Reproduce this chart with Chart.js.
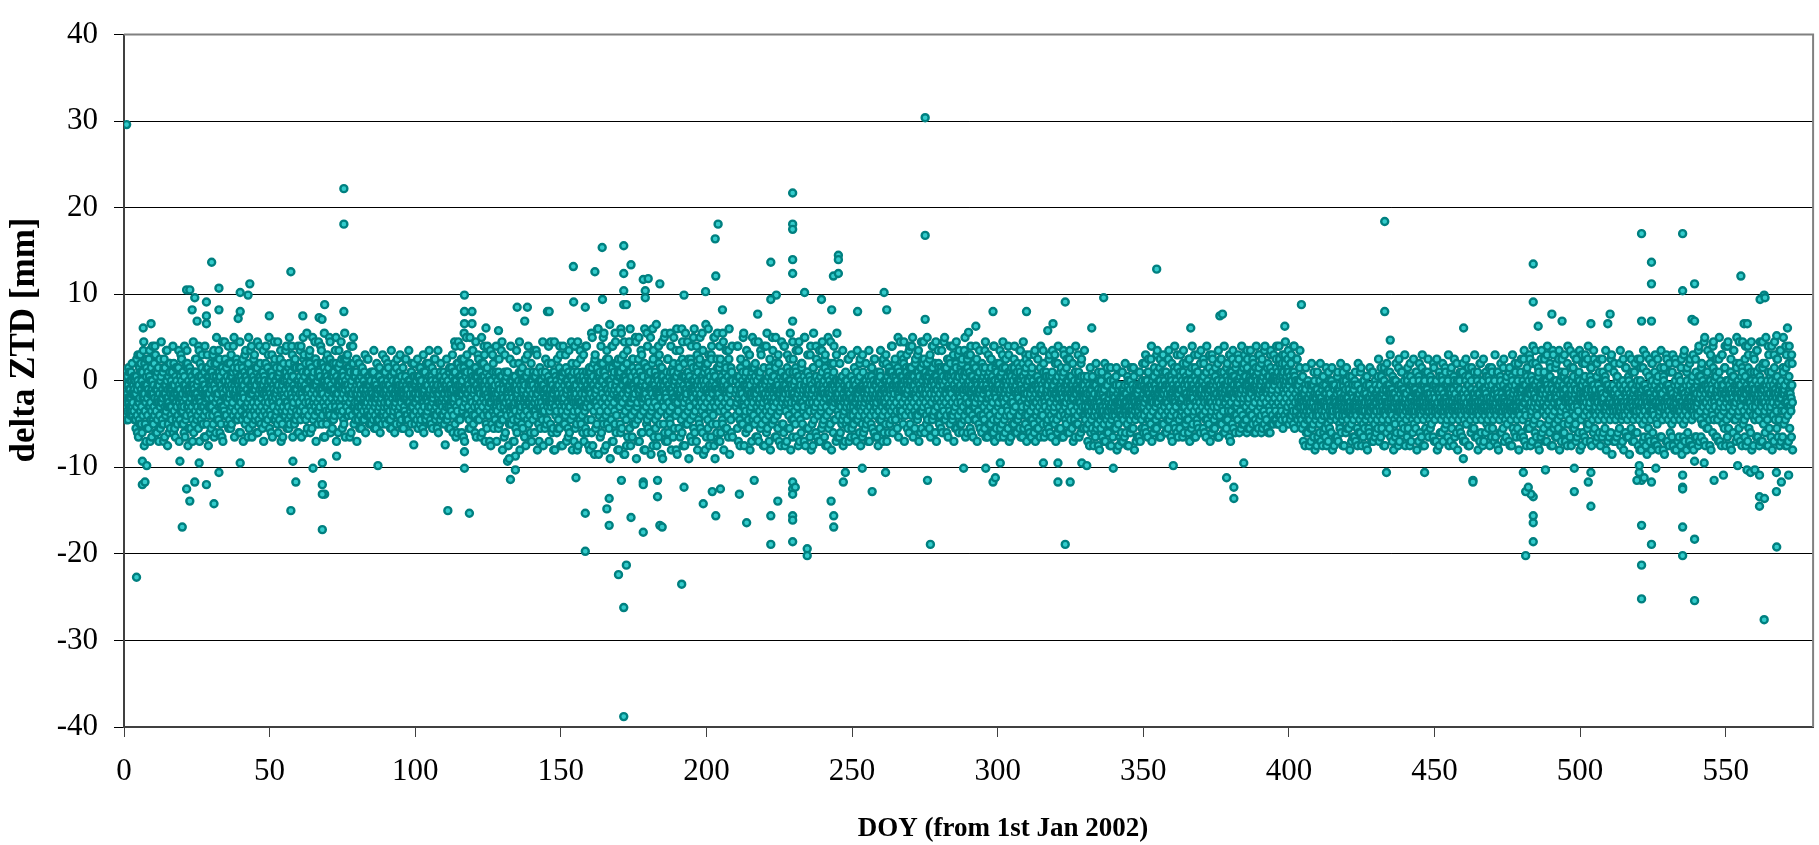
<!DOCTYPE html>
<html>
<head>
<meta charset="utf-8">
<title>delta ZTD</title>
<script src="https://cdn.jsdelivr.net/npm/chart.js"></script>
<style>
  html, body { margin: 0; padding: 0; background: #fff; }
  canvas { display: block; }
</style>
</head>
<body>
<canvas id="ztdChart" width="1819" height="845"></canvas>
<script>
// ticks
var xTicks = [0, 50, 100, 150, 200, 250, 300, 350, 400, 450, 500, 550];
var yTicks = [-40, -30, -20, -10, 0, 10, 20, 30, 40];

// daily samples, one group of letters per day, 10 days per row ('.' = no data)
// letter -> mm : A=-14, B=-13.5 ... Z=-1.5, a=-1, b=-0.5, c=0 ... z=11.5
var LEVELS = 'ABCDEFGHIJKLMNOPQRSTUVWXYZabcdefghijklmnopqrstuvwxyz';
var dailyRows = [
  "YbUcXeWa ZVdYbTfX aWcUYeZV XbZdVaTc ZRdWhUaQ bXTfYSiV WcQZeUYj ZgVSbXOd YUeaRWhZ cXTZfVPa",
  "ZSbWgUYk VdXQaTeY bZUhWRcX XTaYeSZO WfZUbVjY aYSdXQgW ZUcWTaYe YgVbRZXP cWZSfUaY XaTdYViW",
  "ZVeXSbWQ bYTgZUaj WcZRaXfV YUdWbTOZ aXSeZVhY ZbWUcYRk VgYaXTdW cZSbWUPe XVaYfSZi YdUZbWQc",
  "aWeYcUiS bZgVaXQd YcUeZTjW dXaSbWfP ZeWcVYlU aUfYdSXb cYTaZgVR WdaXeUkZ bVcZTaYh YfWbUdQa",
  "aXdVgZTc ZbYUeWiS dWaTcXPf YeVbZUjW cZSaXdhV aUfWbYQe XcZTdVka bYWeUaRZ ZdVcXSga WaYfTbiX",
  "aVeZcUQY dXbWaTlZ YcUfZVaS bWdYTeXh ZaVcSbPW cYeUaXjV XbZdWTfR aUcYeVZk WdXbTaSg ZfVaYcUQ",
  "bXfZdVjT aZcWeYmU dVbXgTQa ZeYaUcXi cWdZfVRb XaeYbUlW bZgVcXSd eYaWdTkZ aUcZgXPb WdbYeVhS",
  "cZfXaVmU bWdYgTRa ZeaUcXjW dYbVfZQc XgcWaUlY aVeZdTSb cXbYhWiU ZdaVfXPe bYcUgZkW eWaXdVTZ",
  "ZVcXaTgW YbUZdWRa aXVcYTeZ WZbUaXhV ZdYSbWcU XaVZeYTb bWUcXZRY YZaVdTfW aXcUZYSb VbZWeXTa",
  "ZUaYcWgX XbVZdTRa aYWcUZeV WZbXaSfY cVaZYUbW YXdTbZRa ZaWcVYhU bYUZaXTc XcZVbWSe aWYdUZgX",
  "ZXbVcYTa YaWZdUfS bVcXaZRY WZaUeYbT cYVbXZgW ZaTcWYSd XbYZaVhU aWcUbZRX YZVdXaTe bXaWcYUZ",
  "ZVbXdTaW aYcUZWRe XbWZaVfY aUeXcYlS cWaZgVQb YdXbTfZk bZcVaWPh eXaYdUmZ ZcWbgTRa aYeVcXjU",
  "cZaWfUQd XbYdTaiW aVcZeXPb dWbYUgZk ZaXcSeVR YWbUdXOa XZcSaYiV WaYUbTdZ YVcXZSRe aXWdYUjT",
  "ZTbYaWPc XcVZdUeY YWaSbXhV aUZcWYOT WbXdVaRZ YZTaXcgU XVbYeWSa ZaUcXYPb WYdVZTiX bXaUYcQW",
  "YcWZTbeV XaVdYUjZ ZWbXSaOc aYUcXeVT WbZVdYRa YXaTcWgZ ZVcXaSlW XbYReZMa aWdUYcVQ YZTbXfRk",
  "WcaYVdNZ XYbSeWUi ZaVcXRPb bWYdTaZl YUcXeVOa aXZbSgWM VcYaXdTj XZbUWeQc YaVcZRkW bXTdYaNe",
  "aWeZcTnQ dYbVgXLa ZcXaSfWo bUdYeVPc XaZcgTmS eWbYdUNa aVcXhZRf cYaTbWkO ZdXeVaSn bUcZgYMd",
  "YaWdSeQo cXbZfUiL aVdYcTNg eZbWaXlR XcUdYbPh bYaVeZSm dWcXaTOf ZaeUbYjQ cXYdVaMg aZbWfSnT",
  "YdcXaUQe bVaZgWoN cYXbeTRa aWdUcZkP ZbYfVaLd dXaSbWmQ aZcYeUOh XbdVaTSn cWaZfYPe bYcXdUjM",
  "aXeVbZRg ZcYaTdoQ dWbXgUNa YaZcSelV bXdWaTPh cZaYfUmR aVbXdZOk eYcTaWSg ZbXdVcnQ aWeYbUMf",
  "cXaZgTRo bYdVaWPi aZcUeXmN dWbYaSQh XaZcfVkO bYdWaTSn cVaXeZRg aYbUdWPj ZcXaTfQe .",
  "ZWcUaXkR YbVdZTNa aXZcSeWm WYbUdVQg ZaXcTaRi bVYdWZOe XcUaZfSl YZbWcTPa aXVdYeRj ZbWUaXNc",
  "YcZTbVkQ XaWdUZOf bYVcXaSm ZWdTaYPg aXbUcZRi YVZdWaNe XcaSbYQk ZWbVdXOa aYcUZeRh WXbTaZPl",
  "ZbYVcXSf YaWdUZNj aXcTbYQg XZVaWdOm bYcUZaRe ZWaXdVPi YbZSaXNf aVcWYdQk XZbUcaOg ZYdVaWRj",
  "bXaTcZPh YWdUbZNe aZcVXYSl ZbXaWdQg XYcTaZOi YVbXZUPc XaWYcSdT ZUXbVYOa WYcTaXRh YbZVWUPd",
  "XaYUcWSb ZVbXYTOe YWcZUaQg aXYVbSPi WZcUXYRa YbVaTZOd XcWYUbSf ZaXVcYQh YUbWZXPc aYVcTZRe",
  "XZbWaUOg YcVaZXSi bWdYaUQf cZaXeVkT aYdWbZgU dXbVcaRe bZeYaWlV aVcXdbSh cYaUeZfW ZbdXaVQj",
  "bWcYfUkZ aXdZbVRg cYaWeTiU dZbXaVQf aVcYgWlZ bXeaZUSd cWaYdVRh ZbcXeUkT aYdVbZQg dXaWcYjU",
  "bZcUeXRf aWdYbVlT cXaZfUQd dYbWaVhS aZcXeTkU bVdYaWRg cXaZdUiQ aYbVfXSe dWcZaTjU bXaYeVQh",
  "aXcVeZRi ZbYUdWPa cWaXfTkZ bYdVaZSe aUcXbYQg ZdWaTeRj cXbYaVPd aZeUcWSh YbdXaTQk cVaZfYRe",
  "aWcXbUPg ZdYaVeSi bXcTaZQf aYdWbVRk cZaUeXPd YbXcVaSh aWdZbTQe ZcYaUfRj bXaVdWPg aYcZeUSi",
  "ZWbUcXRg YaVZdTPe XcWaYSQi ZbUXdVRa aYWcTZPf XZbVaUSj YcXWdZQe ZaTbYVRh WXcUaZPd aYbVZWSi",
  "ZXcTaYQg YaWbUZRe XcZVdYPj aWbTZXSf ZYcUaVQh XbWdZYRa YaVcTZPe ZXbWUaSi aYcVZXQg WZbUaYRd",
  "WTZYVaRc XVWSbUNZ VYTaXRdW WUZXQVPb XSWYUaNe VXTZWRcU WZUVYSOa UXWbTVQf XVYSZWNc WTVaXUPZ",
  "VYWUbXRd XTZVWSNa WVUYXQOe YWTaVXPb VXZUWSNd WUYVaTQc XWVbUYRf YVXTZWOa WZUXVaPe XUWYbTRc",
  "ZWbUaXRg YaVcZTPe XZWbUYSh aYcVXZQd ZbWTaXRi YXcUZaPf WaYVbZSg ZXcWUaQe YbZTXVRh aWcYZUPd",
  "ZYbVaXSf XaWcZUQi YZbTXaRe aXVcYWPg ZbWUaZSd YcXVbTQh XaZWcYRf ZYbUaVPi aXcWZTSe YbVZXaQg",
  "ZaWcUYRh XZbVaTPe YcXWZaSf aYbUVXQi ZWcTaYRd XbZVcWPg YaXUbZSh aZcWYVQe ZXbTaYRf YcWVZaPi",
  "aXcVeZSh ZbYUdWQa cWaXbTiZ bYdVaZRe aUcXfYSg ZdWaTbQj cXbYaVRd aZeUcWSh YbdXaTQf cVaZeYRi",
  "aWcXbUQg ZdYaVeSj bXcTaZRf aYdWbVQi cZaUeXSd bYdWcVTh cZeXaUSk dYbWfVTg aceXbZUi cYdVaeWh",
  "bZcXdUTg cWaYeVSk dXbZcUVh aYcWbXUf WUYXTaRd XVWSZUNb VXTYWQcU WTZVXROa YUWXSbPe VWTaYUNZ",
  "XVWUZSQc WYTVaXNd UXWZVRPb XWUYSaOe VZXWTUQc WUVbYXNa YXTWVZPd WVUXaSRb XYWTVUNe VWZXUaQc",
  "WTXYVbRa XVWUZSOd YWTaXVPc VXUWYRNb WZVTXaQe XUYWVSPc WVXaTZNd YWUXVRQb VXZWTaOe WYVUXSPc",
  "XVZTYaRd WYUXbVPf XTWZVaNc YXVUaWQg WZXTVbRe XVYWUaOd YWTXZSPc XUVYWaNf WXZTVbQe YVWUXaRc",
  "XYVTZWPd WXUaVYNg YVXWTbQc XZWUVaRe WYTXZVOd XVWaUYPf YXTVWbNc WZXUVaQe XVYTWZRd YWUXVaPg",
  "XTYVWbOc WXVUZaNe YVWTXaQd XZUVYWRf WYXTVbPc XVWUZaOe YXTVWaNd WZVUXbQg XYWTVaRc YVXUWZPe",
  "XWTYVaOd WXVUZbNf YVWTXaQc XZUWYVRe WYXTVaPd XVWUZbOg YXTVWaNc WZVUXaQe XYWTVbRd YVXUWaPf",
  "XWTYVZOc WXVUYaNe YVWTXbQd XZUVYWRf WYXTVaPc XVWUZaOe YXTVWbNd WZVUXaQg XYWTVZRc YVXUWaPe",
  "YWaTcXPh XZVbUYNe YaWcSZRi ZXUdVaOg WYbTZXQj YVcUaWNf XaZSbYPh ZWcVXaRe YbUZWcOi XaVYTdQg",
  "ZYbWUaNj XcVZSYPf YaWbTXRh ZXcUVaOe WYbZSdQi XaVcUYNg YZWbTXPj ZaXcVWRf YbUZSaOh XWcYVdQe",
  "YaZTbXNi ZXcWUYPg XbVaSZRh YWcUXdOf ZaYTbVQj XVaWUYOg YXbTZVQe WZaUXYPh XYcVTWRd ZWbXUaOf",
  "XVaTYWQh WZXUbVOe YWTaXVPd XUZWVbRg WYXTaUOc XVWZUbQf YXTWVaPd WZUXYbRh XWVTZaOe YXUWVbQc",
  "XZTWbVMh WYXUaSOf YWVbTXNi XaUZWRPd ZXTYVbMg WVYaUXOe XZWTcSNh YXUVaWPf WYZTbXMd XVWUaYOi",
  "YXTWbVNg XZUaWSPe WYXVTbMh XVYZUaOd YWTXcVNf XZWUaSPi WYVTbXMe XUZYWaOg YXWVTcNd XZUWaYPh",
  "ZWbUcXNj YaVZdTPf XcWaYSOl ZbUXeVRa aYWcTZNg XZbVaUQk YcXWdZPe ZaTbYVOh WXcUaZNi aYbVZWRf",
  "ZXcTaYPk YaWbUZNe XcZVdYQj aWbTZXOg ZYcUaVRl XbWdZYNf YaVcTZPh ZXbWUaOk aYcVZXQe WZbUaYNi",
  "ZaWcUYPj XZbVaTNf YcXWZaOl aYbUVXQg ZWcTaYNk XbZVdWPe YaXUbZOi aZcWYVRh ZXbTaYNj YcWVZaPf",
  "ZaVbXTNk YXcUZWOg aZWbVYPi"
];

// further samples of the same days
var extraRows = [
  "bdXT aeYV cgWU dcZT ciXP egaS blYN fhbR djWO ckZT",
  "eiaQ bfXO dlYS fhbP cjWN egaR bkZQ dfXT fjbO chYS",
  "dkaP fgWN beZR clbQ ehXT djYO fiaS bkZP dfWN egbR",
  "djbP gmZT ehcQ flaO chYU gkbR dibS fmZP egcT clYQ",
  "fhaO djcU gmZR ekbP ciaT flYQ dgcS ejbO gkZU cmaR",
  "eiYP ghcT dlbQ fjaO cgZU ekcR gmbS diYP fhaT ckcQ",
  "fkbP hiaU enZR gjcQ dmdT hhbO elaV gjZS fncP dibU",
  "hlaQ egdT gmZO fjbV dhcR hnaP fibU ekZQ gmdS ehbO",
  "cgYR efaT biXQ dhbU ceZS ejYR bgaT dfXQ ciZU ehbS",
  "bfYT djaR egXQ chbU eiZS bfYR dhaT cjXQ egbU bdZS",
  "dhYR cfaT eiXQ bgbU djZS cfYR ehaT bjXQ dgbU ceZS",
  "bhYT efaR diXQ ekbP glZT dhcQ fnaO eibU gmYR djcS",
  "flbP ehaT gmcQ dibO fkZU cjXN egZR ekWO bhaS dlYM",
  "eiXQ aeZN ckWS dgaO bjYQ elXM cfZR dhWN ekaS bgYO",
  "djXQ eiZM cfWR blaN ehYS dkXO cgZQ elWM bhaR diYN",
  "ekXS cfZO ejWQ dgaM bkYR elXN chZS diWO ekaQ cfYM",
  "fmbN hiZR dobL gkcQ enYM hjaS cpcK fkZO glbQ ehaM",
  "hnYR dlcL gjaP eobN fhZS clcK hmaO dibQ goYM fkcR",
  "emaL hjbP dpZN giaS flcK cnYO hhbQ ekaM gmcR doZL",
  "fjbP hlYN dnaS ehcK gkZO coaQ fibM hmYR djcL gpaP",
  "eiZN hkbS dmaK fnYO ghcQ clbM fjZR hoaL ekcP .",
  "dkYO fhaS bnXN ejbR ciZM fmYT dgaP elXO bibS fkZN",
  "cnYR ehaM djXT fmbP bgZO elYS dkaN fiXR cnbM ehZT",
  "ejYP dlaO fgXS bmbN eiZR ckYM fnaT dhXP bjbO elZS",
  "fiYN dmaR bgXM ekbT cnZP bgXQ djZN ceWS ahaO diYR",
  "cfXP ajZT dhWN beaQ cgYS ajXO dfZR bhWP ceaN djYT",
  "ahXQ cgZO beWS ekbQ ghcT fmZP dibU glaO eicR fkdS",
  "dmbP ghZU ejcO flaR dhdQ gmbT eiZP fkcU dlaO gfbS",
  "ejcQ fmZT dhaP gkdU eibO flcR djZS ghaQ emdP fibT",
  "dkaQ fgYT chcO ejZR cfbU flaP diYS fhcQ ckZO egbT",
  "djaR flYP chcU eiZO dfbS fkaQ cgYT ejcP dlZR fhbO",
  "ciYQ efaT bjXO dhbR ckZU egYP bdaS diXQ ejbT cgZO",
  "dkYR bfaP eiXU chbQ djZT bgYO ekaS ceXP dhbR bjZU",
  "ZdVO afXQ YbUN bgWR ZcYM aeVP YgXO bdUQ ZfWN acYR",
  "bfVM YbXP aeUO ZgWQ bcYN YfVR adXM ZbUP beWO YgYQ",
  "ciYQ ehaT bkXO dfbR ejZU chYP eiaS beXQ djbT cgZO",
  "ekYR bfaP diXU ejbQ cgZT ehYO bkaS dfXP eibR cjZU",
  "dgYQ ekaT biXO ehbR dfZU cjYP ehaS bkXQ dgbT eiZO",
  "djbR fgZU chcQ ekaS dibT fhYR cjcU egaQ dkbS fiZT",
  "chcR ekaU dgbQ fjZS cibT fkdS ghcU eidR glbT fjeS",
  "gicU ekdR hhbT fjcS ZdVO afXQ YbUN bgWR ZcYM aeVP",
  "YgXO bdUQ ZfWN acYR bfVM YbXP aeUO ZgWQ bcYN YfVR",
  "adXM ZbUP beWO YgYQ afVN ZcXR bdUM YfWP aeYO ZbVQ",
  "ahWO ZdYR cfVN beXS aiZP ZcWM cgYQ bhVO aeXS ZiZN",
  "cfWR bdYO ahVS ZeXM cgZQ biWN aeYR ZhVP ccXS bfZO",
  "ahWM ZdYQ cgVO beXS aiZN ZfWR chYP bcVM aeXQ ZgZO",
  "chWS bdYN afVR ZiXP ceZM bgWQ ahYO ZdVS cfXN beZR",
  "aiWP ZeYM cgVQ bhXO adZS ZfWN ciYR beVP agXM ZhZQ",
  "bjXO dfZR ahWN ckaS bgYP deXM ajZQ chWO bkaS dfYN",
  "aiXR cgZP bjWM dhaQ aeYO ckXS bfZN diWR ahaP cjYM",
  "bgXQ diZO akWS cfaN bhYR dgXP ahWN ZeYQ cjVM bfXP",
  "aiZL ZgWO cdYQ bjVN ahXM ZfZP ciWL beYO agVQ ZhXN",
  "cfZM bjWP aeYL ZhVO cgXQ biZN adWM ZjYP cfVL bhXO",
  "aeZQ ZiWN cgYM bdVP ahXL ZjZO cfWQ bhYN aiVM ZeXP",
  "dkYO fgaS bmXN ejbR ciZM flYT dhaP emXO bibS fkZN",
  "clYR ehaM djXT fmbP bgZO elYS dkaN fiXR clbM ehZT",
  "ejYP dlaO fgXS bmbN eiZR ckYM flaT dhXP bjbO emZS",
  "fiYN dkaR bgXM"
];

// large departures [DOY, mm]
var outliers = [
  [0.9, 29.6], [75.5, 22.2], [75.5, 18.1], [30.1, 13.7], [57.3, 12.6], [43.2, 11.2], [32.6, 10.7],
  [39.9, 10.2], [42.6, 9.9], [21.5, 10.5], [22.6, 10.5], [24.3, 9.6], [116.9, 9.9], [116.9, 8.0],
  [119.5, 8.0], [116.9, 6.6], [119.5, 6.6], [75.5, 8.0], [28.3, 9.1], [23.4, 8.2], [32.6, 8.2],
  [68.9, 8.8], [49.9, 7.5], [61.4, 7.5], [67, 7.3], [68, 7.1], [138.5, 8.5], [135, 8.5], [137.6, 6.9],
  [145.4, 8.0], [124.3, 6.1], [128.6, 5.8], [9.3, 6.6], [6.6, 6.1], [28.3, 7.5], [28.3, 6.6],
  [39.2, 7.2], [39.9, 8.0], [25.1, 6.9],
  [4.3, -22.7], [20, -16.9], [57.3, -15.0], [68.1, -17.2], [111.2, -15.0], [118.6, -15.3],
  [21.5, -12.5], [22.6, -13.9], [24.3, -11.7], [28.3, -12.0], [30.9, -14.2], [6.3, -12.0],
  [7.2, -11.7], [59, -11.7], [68.1, -12.0], [68.9, -13.1], [68.1, -13.1], [32.6, -10.6],
  [64.9, -10.1], [58, -9.3], [116.9, -10.1], [134.4, -10.3], [132.7, -11.4], [134.4, -8.7],
  [87.2, -9.8], [25.8, -9.5], [39.9, -9.5], [6.3, -9.3], [7.8, -9.8], [19.2, -9.3], [73, -8.7],
  [68.1, -9.5], [131.7, -9.3], [132.3, -9.0], [116.9, -8.2], [99.5, -7.4], [110.3, -7.4],
  [275.1, 30.4], [229.6, 21.7], [229.6, 18.1], [229.6, 17.5], [204, 18.1], [203, 16.4],
  [275.1, 16.8], [164.2, 15.4], [171.6, 15.6], [154.3, 13.2], [161.7, 12.6], [174.1, 13.4],
  [171.6, 12.4], [178.3, 11.7], [180, 11.8], [184, 11.2], [171.6, 10.4], [171.6, 8.8], [172.5, 8.8],
  [179, 10.4], [179, 9.6], [203.2, 12.1], [229.6, 14.0], [229.6, 12.4], [222.1, 13.7], [245.3, 14.5],
  [245.3, 14.0], [243.6, 12.1], [245.3, 12.4], [233.7, 10.2], [239.5, 9.4], [199.7, 10.3],
  [192.3, 9.9], [154.4, 9.1], [158.4, 8.5], [164.3, 9.4], [261, 10.2], [261.9, 8.2], [251.9, 8.0],
  [224, 9.9], [222.1, 9.4], [229.6, 6.9], [243, 8.2], [275.1, 7.1], [146, 8.0], [217.6, 7.7],
  [205.5, 8.2],
  [171.6, -38.8], [171.6, -26.2], [169.8, -22.4], [172.5, -21.3], [191.5, -23.5], [158.4, -19.7],
  [158.4, -15.3], [166.6, -13.6], [165.8, -14.8], [166.6, -16.7], [174.1, -15.8], [178.3, -17.5],
  [184, -16.7], [184.8, -16.9], [183.2, -13.4], [178.3, -11.7], [178.3, -12.0], [183.2, -11.5],
  [170.8, -11.5], [155.2, -11.2], [198.9, -14.2], [203.2, -15.6], [202, -12.8], [204.8, -12.5],
  [192.3, -12.3], [211.3, -13.1], [213.8, -16.4], [222.1, -15.6], [222.1, -18.9], [224.5, -13.9],
  [229.6, -15.6], [229.6, -16.1], [229.6, -18.6], [229.6, -11.7], [229.6, -12.5], [230.5, -12.3],
  [229.6, -13.1], [234.6, -19.4], [234.6, -20.2], [242.8, -13.9], [243.7, -15.6], [243.7, -16.9],
  [247, -11.7], [256.9, -12.8], [275.9, -11.5], [276.9, -18.9], [261.5, -10.6], [216.4, -11.5],
  [247.7, -10.6], [253.5, -10.1],
  [354.6, 12.9], [432.9, 18.4], [432.9, 8.0], [336.4, 9.6], [323.2, 9.1], [298.4, 8.0], [309.9, 8.0],
  [404.3, 8.8], [332.3, 6.1], [376.3, 7.5], [377.2, 7.7], [398.6, 6.3], [292.5, 6.3], [290, 5.6],
  [366.3, 6.1], [319, 6.6], [317.2, 5.8],
  [323.2, -18.9], [381.1, -13.6], [381.1, -12.3], [378.6, -11.2], [320.7, -11.7], [324.9, -11.7],
  [298.4, -11.7], [299.2, -11.2], [295.9, -10.1], [288.3, -10.1], [339.7, -10.1], [360.3, -9.8],
  [315.7, -9.5], [320.7, -9.5], [300.9, -9.5], [384.5, -9.5], [433.5, -10.6], [328.9, -9.5],
  [330.6, -9.8],
  [521.1, 17.0], [535.2, 17.0], [524.5, 13.7], [524.5, 11.2], [535.2, 10.4], [539.3, 11.2],
  [555.2, 12.1], [483.9, 13.5], [483.9, 9.1], [563.2, 9.9], [561.8, 9.4], [563.5, 9.6], [490.3, 7.7],
  [493.8, 6.9], [503.7, 6.6], [510.3, 7.7], [509.5, 6.6], [521.1, 6.9], [524.5, 6.9], [538.4, 7.1],
  [539.3, 6.9], [571.2, 6.1], [460, 6.1], [485.6, 6.3], [556.3, 6.6], [557.4, 6.6], [434.8, 4.7],
  [567.5, 5.2],
  [563.2, -27.6], [539.3, -25.4], [521.1, -25.2], [521.1, -21.3], [521.1, -16.7], [524.5, -18.9],
  [535.2, -20.2], [535.2, -16.9], [539.3, -18.3], [567.5, -19.2], [481.3, -20.2], [483.9, -18.6],
  [483.9, -16.4], [483.9, -15.6], [483.9, -13.4], [483.1, -13.1], [481.3, -12.8], [480.5, -10.6],
  [482.2, -12.3], [503.7, -14.5], [498, -12.8], [502.8, -11.7], [503.7, -10.6], [498, -10.1],
  [463.2, -11.5], [463.2, -11.7], [446.6, -10.6], [535.2, -12.3], [535.2, -12.5], [535.2, -10.9],
  [561.6, -14.5], [561.6, -13.4], [563.3, -13.6], [567.4, -12.8], [569.1, -11.7], [571.6, -10.9],
  [567.4, -10.6], [521.1, -11.5], [524.5, -11.7], [519.5, -11.5], [522, -11.2], [520.3, -10.6],
  [520.3, -9.8], [546, -11.5], [549.2, -10.9], [539.3, -9.3], [542.6, -9.5], [554.1, -9.8],
  [557.3, -10.3], [558.5, -10.6], [560, -10.3], [561.6, -10.9], [459.9, -9.0], [488.1, -10.3],
  [526, -10.1]
];

// unpack the daily groups into scatter points, samples spread through the day
var points = [];
dailyRows.forEach(function (row, r) {
  var extra = extraRows[r].split(' ');
  row.split(' ').forEach(function (group, i) {
    if (group === '.') return;
    var day = r * 10 + i;
    var all = group + (extra[i] && extra[i] !== '.' ? extra[i] : '');
    for (var k = 0; k < all.length; k++) {
      points.push({ x: day + (k + 0.5) / all.length, y: -14 + 0.5 * LEVELS.indexOf(all[k]) });
    }
  });
});
outliers.forEach(function (p) {
  points.push({ x: p[0], y: p[1] });
});

var serif = '"Liberation Serif", "Times New Roman", serif';

// gray frame on top/right and the two axis titles
var framePlugin = {
  id: 'frame',
  afterDatasetsDraw: function (chart) {
    var a = chart.chartArea, c = chart.ctx;
    c.save();
    c.strokeStyle = '#808080';
    c.lineWidth = 2;
    c.beginPath();
    c.moveTo(a.left, a.top);
    c.lineTo(a.right, a.top);
    c.lineTo(a.right, a.bottom);
    c.stroke();
    c.restore();
  },
  afterDraw: function (chart) {
    var c = chart.ctx;
    c.save();
    c.fillStyle = '#000';
    c.textAlign = 'center';
    c.textBaseline = 'middle';
    c.font = 'bold 27px ' + serif;
    c.fillText('DOY (from 1st Jan 2002)', 1003, 829);
    c.font = 'bold 35px ' + serif;
    c.translate(25, 340);
    c.rotate(-Math.PI / 2);
    c.fillText('delta ZTD [mm]', 0, 0);
    c.restore();
  }
};

var ctx = document.getElementById('ztdChart').getContext('2d');
var chart1 = new Chart(ctx, {
  type: 'scatter',
  data: {
    datasets: [{
      data: points,
      pointBackgroundColor: '#33CCCC',
      pointBorderColor: '#008080',
      pointBorderWidth: 2.4,
      pointRadius: 3.5,
      pointHoverRadius: 3.5
    }]
  },
  options: {
    responsive: false,
    animation: false,
    events: [],
    layout: { padding: { left: 0, right: 5, top: 19, bottom: 0 } },
    plugins: {
      legend: { display: false },
      tooltip: { enabled: false }
    },
    scales: {
      x: {
        type: 'linear',
        min: 0,
        max: 580,
        afterBuildTicks: function (scale) {
          scale.ticks = xTicks.map(function (v) { return { value: v }; });
        },
        afterFit: function (scale) { scale.height = 118; },
        ticks: { color: '#000', font: { family: serif, size: 31 }, padding: 16, maxRotation: 0, autoSkip: false },
        grid: { drawOnChartArea: false, tickLength: 10, color: '#404040' },
        border: { color: '#404040', width: 2 }
      },
      y: {
        min: -40,
        max: 40,
        afterBuildTicks: function (scale) {
          scale.ticks = yTicks.map(function (v) { return { value: v }; });
        },
        afterFit: function (scale) { scale.width = 124; },
        ticks: { color: '#000', font: { family: serif, size: 31 }, padding: 16 },
        grid: {
          color: function (c) { return c.tick && c.tick.value === 40 ? 'rgba(0,0,0,0)' : '#000'; },
          lineWidth: 1,
          tickLength: 10,
          tickColor: '#000'
        },
        border: { color: '#404040', width: 2 }
      }
    }
  },
  plugins: [framePlugin]
});
</script>
</body>
</html>
